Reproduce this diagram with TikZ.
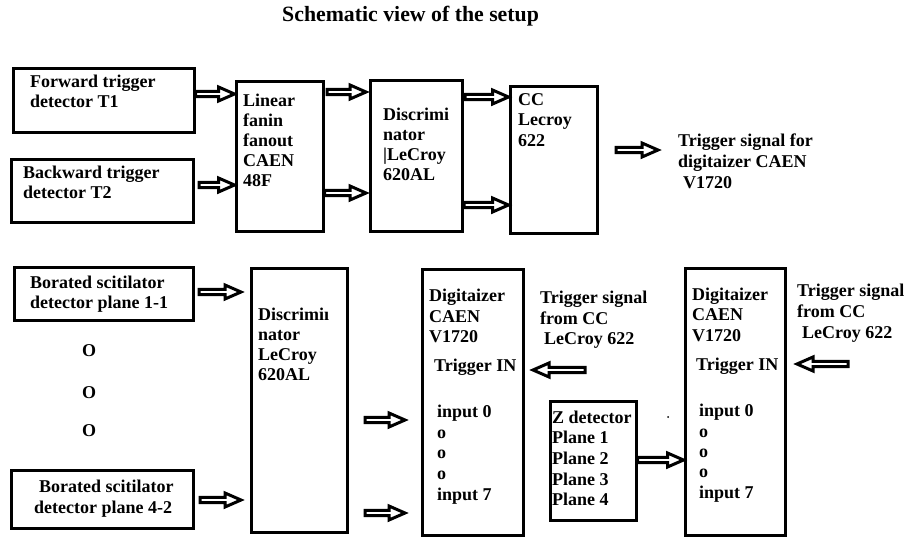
\documentclass[tikz,border=0pt]{standalone}
\usepackage{fontspec}
\setmainfont{Liberation Serif}
\usetikzlibrary{calc}
\tikzset{
  box/.style={draw=black, line width=3pt, rectangle, inner sep=0pt, anchor=north west},
  arrowline/.style={draw=black, line width=3pt, fill=white, line join=miter},
  txt/.style={font=\bfseries\fontsize{18}{20}\selectfont, inner sep=0pt, anchor=base west},
  ttl/.style={font=\bfseries\fontsize{21.8}{24}\selectfont, inner sep=0pt, anchor=base west},
}
\newcommand\mybox[5]{\node[box, minimum width={(#4-#2-3)*1pt}, minimum height={(#5-#3-3)*1pt}] (#1) at ({#2+1.5},{#3+1.5}) {};}
\newcommand\blockarr[2]{\draw[arrowline] let \p1=#1, \p2=#2, \n1={sign(\x2-\x1)} in
  (\x1,\y1+2.6pt) -- ({\x2-\n1*16pt},\y1+2.6pt) -- ({\x2-\n1*16pt},\y1+7pt) -- (\x2,\y1)
  -- ({\x2-\n1*16pt},\y1-7pt) -- ({\x2-\n1*16pt},\y1-2.6pt) -- (\x1,\y1-2.6pt) -- cycle;}
\newcommand\txtlines[5]{\foreach \t [count=\i from 0] in {#5} \node[txt] (#1-\i) at (#2, {#3+\i*#4}) {\t};}
\begin{document}
\begin{tikzpicture}[x=1pt, y=-1pt]
\fill[white] (0,0) rectangle (912,538);
\useasboundingbox (0,0) rectangle (912,538);

% title
\node[ttl] (title) at (282,21.7) {Schematic view of the setup};

% boxes, top row
\mybox{fwd}{10}{65}{194}{132}
\mybox{bwd}{8}{156}{193}{222}
\mybox{lin}{233}{78}{323}{231}
\mybox{discA}{367}{77}{462}{231}
\mybox{cc}{507}{83}{597}{233}
% boxes, bottom row
\mybox{bA}{11}{264}{193}{320}
\mybox{bB}{8}{467}{193}{528}
\mybox{discB}{248}{265}{347}{532}
\mybox{digA}{419}{266}{523}{535}
\mybox{zdet}{547}{398}{636}{520}
\mybox{digB}{682}{265}{785}{535}

% texts, top row
\txtlines{fwdt}{30}{87.3}{20}{Forward trigger,detector T1}
\txtlines{bwdt}{23}{178}{20}{Backward trigger,detector T2}
\txtlines{lint}{243}{106.7}{20}{Linear,fanin,fanout,CAEN,48F}
\txtlines{discAt}{383}{120}{20}{Discrimi,nator,|LeCroy,620AL}
\txtlines{cct}{518}{105}{20.8}{CC,Lecroy,622}
\txtlines{trgt}{678}{146.7}{20.8}{Trigger signal for,digitaizer CAEN}
\node[txt] (trgt-2) at (683,188.3) {V1720};

% texts, bottom row
\txtlines{bAt}{30}{288.3}{20}{Borated scitilator,detector plane 1-1}
\node[txt] (o1) at (82,356) {O};
\node[txt] (o2) at (82,398) {O};
\node[txt] (o3) at (82,436.7) {O};
\node[txt] (bBt-0) at (39,492.7) {Borated scitilator};
\node[txt] (bBt-1) at (34,513) {detector plane 4-2};
\txtlines{discBt}{258}{320}{20.3}{Discrimiı,nator,LeCroy,620AL}
\txtlines{digAt}{429}{301.7}{20.5}{Digitaizer,CAEN,V1720}
\node[txt] (digAtrg) at (434,371.7) {Trigger IN};
\txtlines{digAin}{437}{417.7}{20.6}{input 0,o,o,o,input 7}
\txtlines{trgm}{540}{303.3}{20.7}{Trigger signal,from CC}
\node[txt] (trgm-2) at (544,344.3) {LeCroy 622};
\txtlines{zt}{552}{423.3}{20.6}{Z detector,Plane 1,Plane 2,Plane 3,Plane 4}
\txtlines{digBt}{692}{300}{20.8}{Digitaizer,CAEN,V1720}
\node[txt] (digBtrg) at (696,370.7) {Trigger IN};
\txtlines{digBin}{699}{416.7}{20.4}{input 0,o,o,o,input 7}
\txtlines{trgr}{797}{296.7}{21}{Trigger signal,from CC}
\node[txt] (trgr-2) at (802,338.3) {LeCroy 622};

% stray dot
\fill (668,417) circle (1);

% free arrow ends
\coordinate (a2s) at (199,185);
\coordinate (a3s) at (327,92);
\coordinate (a3e) at (366,92);
\coordinate (a4e) at (366,193);
\coordinate (a5s) at (465,97);
\coordinate (a6s) at (464,205);
\coordinate (a7s) at (616,150);
\coordinate (a7e) at (658,150);
\coordinate (a8s) at (199,292);
\coordinate (a8e) at (241,292);
\coordinate (a9s) at (200,500);
\coordinate (a9e) at (241,500);
\coordinate (a10s) at (365,420);
\coordinate (a10e) at (405,420);
\coordinate (a11s) at (365,513);
\coordinate (a11e) at (405,513);
\coordinate (a12s) at (585,370);
\coordinate (a12e) at (533,370);
\coordinate (a14s) at (848,364);
\coordinate (a14e) at (797,364);

% block arrows
\blockarr{(fwd.east |- 0,94)}{(lin.west |- 0,94)}
\blockarr{(a2s)}{(lin.west |- a2s)}
\blockarr{(a3s)}{(a3e)}
\blockarr{(lin.east |- a4e)}{(a4e)}
\blockarr{(a5s)}{(cc.west |- a5s)}
\blockarr{(a6s)}{(cc.west |- a6s)}
\blockarr{(a7s)}{(a7e)}
\blockarr{(a8s)}{(a8e)}
\blockarr{(a9s)}{(a9e)}
\blockarr{(a10s)}{(a10e)}
\blockarr{(a11s)}{(a11e)}
\blockarr{(a12s)}{(a12e)}
\blockarr{(zdet.east |- 0,460)}{(digB.west |- 0,460)}
\blockarr{(a14s)}{(a14e)}
\end{tikzpicture}
\end{document}
